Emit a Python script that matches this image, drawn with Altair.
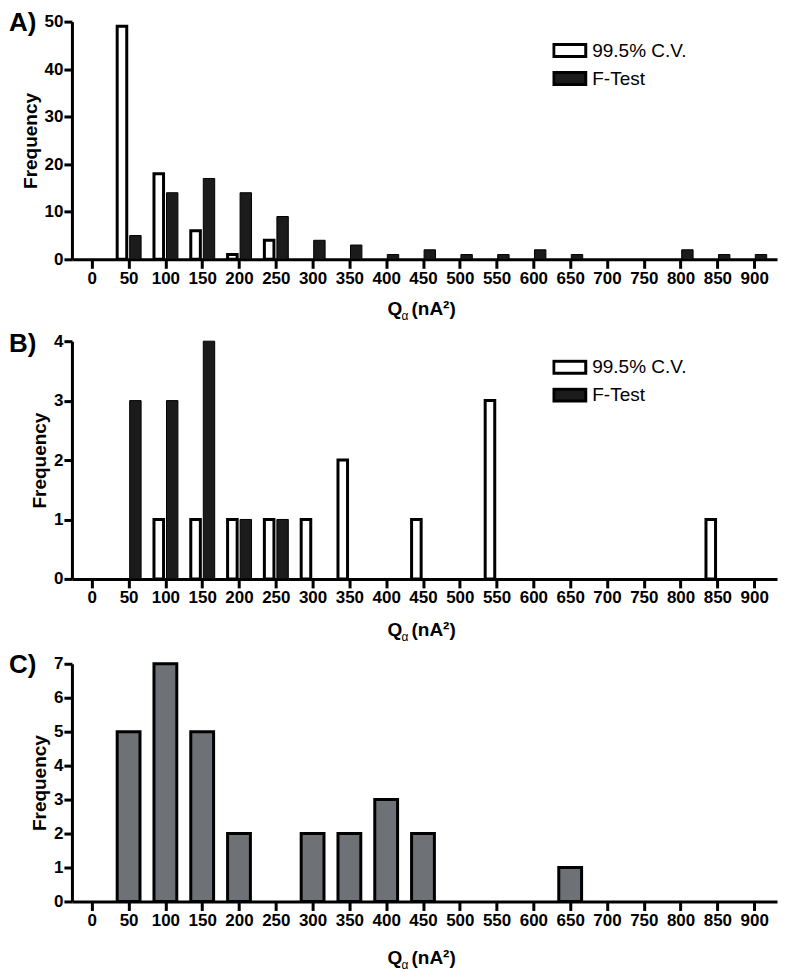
import altair as alt
import pandas as pd

# ---------------- data ----------------
BINS = [50, 100, 150, 200, 250, 300, 350, 400, 450, 500, 550, 600, 650, 700, 750, 800, 850, 900]
TICKS = [0, 50, 100, 150, 200, 250, 300, 350, 400, 450, 500, 550, 600, 650, 700, 750, 800, 850, 900]

A_CV = [49, 18, 6, 1, 4, 0, 0, 0, 0, 0, 0, 0, 0, 0, 0, 0, 0, 0]
A_FT = [5, 14, 17, 14, 9, 4, 3, 1, 2, 1, 1, 2, 1, 0, 0, 2, 1, 1]

B_CV = [0, 1, 1, 1, 1, 1, 2, 0, 1, 0, 3, 0, 0, 0, 0, 0, 1, 0]
B_FT = [3, 3, 4, 1, 1, 0, 0, 0, 0, 0, 0, 0, 0, 0, 0, 0, 0, 0]

C_ALL = [5, 7, 5, 2, 0, 2, 2, 3, 2, 0, 0, 0, 1, 0, 0, 0, 0, 0]

SERIES = ["99.5% C.V.", "F-Test"]

A_TICKS_Y = [0, 10, 20, 30, 40, 50]
B_TICKS_Y = [0, 1, 2, 3, 4]
C_TICKS_Y = [0, 1, 2, 3, 4, 5, 6, 7]

FONT = "Liberation Sans"
W, H = 706, 238


def long_df(cv, ft):
    rows = []
    for q, c in zip(BINS, cv):
        rows.append({"q": q, "count": c, "series": SERIES[0]})
    for q, c in zip(BINS, ft):
        rows.append({"q": q, "count": c, "series": SERIES[1]})
    return pd.DataFrame(rows)


x_scale = alt.Scale(domain=[-27, 931], nice=False, zero=False)


def x_axis():
    return alt.Axis(values=TICKS, title=None, grid=False, labelFontSize=17,
                    labelFontWeight="bold", labelFont=FONT, labelColor="black",
                    tickSize=9, tickWidth=3, tickColor="black", domainWidth=3,
                    domainColor="black", labelPadding=2, labelOverlap=False,
                    labelFlush=False)


def y_axis(vals):
    return alt.Axis(values=vals, title="Frequency", grid=False, labelFontSize=17,
                    labelFontWeight="bold", labelFont=FONT, labelColor="black",
                    titleFont=FONT, titleFontSize=19, titleFontWeight="bold",
                    titleColor="black", titlePadding=4,
                    tickSize=8, tickWidth=3, tickColor="black", domainWidth=3,
                    domainColor="black", labelPadding=1)


def decorations(letter, letter_y, title_y):
    lab = alt.Chart(pd.DataFrame({"t": [letter]})).mark_text(
        align="left", baseline="top", font=FONT, fontSize=26,
        fontWeight="bold", color="black").encode(
        x=alt.value(-63), y=alt.value(letter_y), text="t:N")
    q = alt.Chart(pd.DataFrame({"t": ["Q"]})).mark_text(
        align="left", baseline="alphabetic", font=FONT, fontSize=19,
        fontWeight="bold", color="black").encode(
        x=alt.value(316), y=alt.value(H + title_y), text="t:N")
    al = alt.Chart(pd.DataFrame({"t": ["α"]})).mark_text(
        align="left", baseline="alphabetic", font=FONT, fontSize=12,
        color="black").encode(
        x=alt.value(330), y=alt.value(H + title_y + 5), text="t:N")
    rest = alt.Chart(pd.DataFrame({"t": ["(nA²)"]})).mark_text(
        align="left", baseline="alphabetic", font=FONT, fontSize=19,
        fontWeight="bold", color="black").encode(
        x=alt.value(340), y=alt.value(H + title_y), text="t:N")
    return [lab, q, al, rest]


def paired_panel(df, ymax, yvals, letter, legend_y, letter_y, title_y):
    bars = alt.Chart(df).transform_filter(
        alt.datum["count"] > 0
    ).transform_calculate(
        x0=f"datum.series == '{SERIES[0]}' ? datum.q - 15.5 : datum.q + 1.5",
        x1=f"datum.series == '{SERIES[0]}' ? datum.q - 2.5 : datum.q + 17",
    ).mark_rect(stroke="black").encode(
        x=alt.X("x0:Q", scale=x_scale, axis=x_axis()),
        x2="x1:Q",
        y=alt.Y("count:Q", scale=alt.Scale(domain=[0, ymax], nice=False),
                axis=y_axis(yvals)),
        y2=alt.datum(0),
        fill=alt.Fill("series:N",
                      scale=alt.Scale(domain=SERIES, range=["white", "#1b1b1b"]),
                      legend=alt.Legend(title=None, orient="none",
                                        legendX=481, legendY=legend_y,
                                        symbolType="M-1,-0.375H1V0.375H-1Z",
                                        symbolSize=1024,
                                        symbolStrokeColor="black",
                                        symbolStrokeWidth=3,
                                        labelFont=FONT, labelFontSize=19,
                                        labelColor="black",
                                        labelFontWeight="normal",
                                        clipHeight=16, rowPadding=9,
                                        labelOffset=5, padding=0)),
        strokeWidth=alt.condition(alt.datum.series == SERIES[0],
                                  alt.value(3), alt.value(1)),
    )
    return alt.layer(bars, *decorations(letter, letter_y, title_y)).properties(
        width=W, height=H)


df_a = long_df(A_CV, A_FT)
df_b = long_df(B_CV, B_FT)
df_c = pd.DataFrame({"q": BINS, "count": C_ALL})

panel_a = paired_panel(df_a, 50, A_TICKS_Y, "A)", 21, -12, 56)
panel_b = paired_panel(df_b, 4, B_TICKS_Y, "B)", 18, -10, 57)

bars_c = alt.Chart(df_c).transform_filter(
    alt.datum["count"] > 0
).transform_calculate(
    x0="datum.q - 15.5", x1="datum.q + 15.5"
).mark_rect(stroke="black", strokeWidth=3, fill="#6e7276").encode(
    x=alt.X("x0:Q", scale=x_scale, axis=x_axis()),
    x2="x1:Q",
    y=alt.Y("count:Q", scale=alt.Scale(domain=[0, 7], nice=False),
            axis=y_axis(C_TICKS_Y)),
    y2=alt.datum(0),
)
panel_c = alt.layer(bars_c, *decorations("C)", -12, 63)).properties(width=W, height=H)

chart = alt.vconcat(panel_a, panel_b, panel_c, spacing=7).resolve_scale(
    fill="independent", y="independent"
).resolve_legend(fill="independent").properties(
    padding=0,
    background="white",
).configure_view(stroke="transparent")

chart.save("out.html", embed_options={"renderer": "svg", "actions": False})
